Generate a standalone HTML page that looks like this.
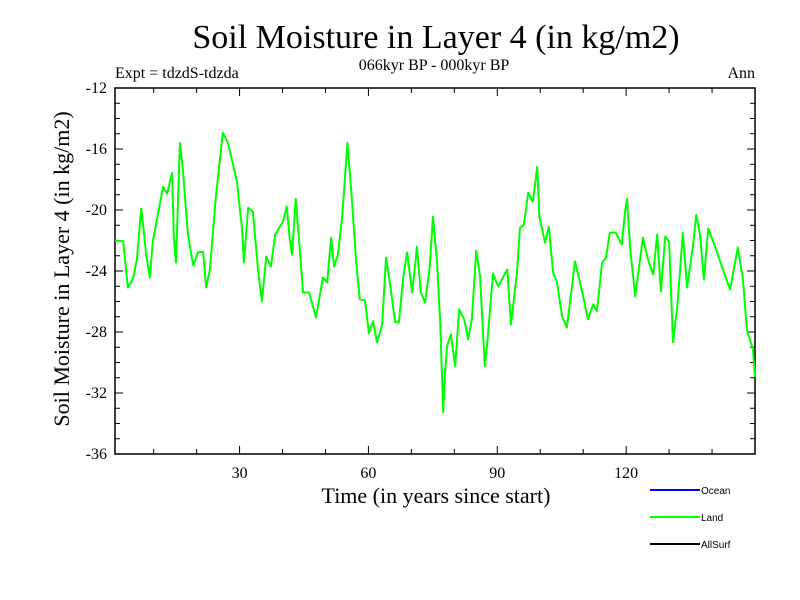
<!DOCTYPE html>
<html><head><meta charset="utf-8">
<style>
body{margin:0;background:#fff;}
svg{display:block;}
</style></head>
<body>
<svg id="chart" width="800" height="600" xmlns="http://www.w3.org/2000/svg">
<rect width="800" height="600" fill="#fff"/>
<text x="436" y="48" font-family="Liberation Serif, serif" font-size="34" text-anchor="middle">Soil Moisture in Layer 4 (in kg/m2)</text>
<text x="115" y="78" font-family="Liberation Serif, serif" font-size="16">Expt = tdzdS-tdzda</text>
<text x="434" y="70" font-family="Liberation Serif, serif" font-size="16" text-anchor="middle">066kyr BP - 000kyr BP</text>
<text x="755" y="78" font-family="Liberation Serif, serif" font-size="16" text-anchor="end">Ann</text>
<g id="axes"></g>
<g id="series"></g>
<text x="436" y="503" font-family="Liberation Serif, serif" font-size="22" text-anchor="middle">Time (in years since start)</text>
<text transform="translate(69,269) rotate(-90)" font-family="Liberation Serif, serif" font-size="22" text-anchor="middle">Soil Moisture in Layer 4 (in kg/m2)</text>
<g>
<line x1="650" y1="490" x2="700" y2="490" stroke="#0000ff" stroke-width="2"/>
<text x="701" y="494" font-family="Liberation Sans, sans-serif" font-size="10">Ocean</text>
<line x1="650" y1="517" x2="700" y2="517" stroke="#00ff00" stroke-width="2"/>
<text x="701" y="521" font-family="Liberation Sans, sans-serif" font-size="10">Land</text>
<line x1="650" y1="544" x2="700" y2="544" stroke="#000" stroke-width="2"/>
<text x="701" y="548" font-family="Liberation Sans, sans-serif" font-size="10">AllSurf</text>
</g>
</svg>
<script>
const years = [1,2.9,4.0,5.2,6.1,7.1,7.3,8.2,9.1,9.8,12.2,13.1,14.3,14.7,15.2,16.1,16.8,18.0,19.2,20.3,21.5,22.2,23.1,24.5,26.1,27.3,29.4,30.6,31.0,32.0,33.1,34.3,35.2,36.2,37.3,38.3,40.1,41.0,41.7,42.2,43.1,44.8,46.2,47.8,49.4,50.4,51.3,52.0,52.9,53.9,55.1,56.0,57.1,58.0,59.2,60.1,61.1,62.0,63.2,64.1,65.0,66.2,67.1,68.1,69.0,70.2,71.3,72.2,73.2,74.3,75.0,76.0,76.7,77.4,77.8,78.3,79.2,80.2,81.1,82.3,83.2,84.1,85.1,86.0,87.1,87.6,89.0,90.2,92.3,93.2,94.6,95.3,96.2,97.2,98.3,99.3,99.8,101.1,102.0,103.0,103.9,105.1,106.2,108.1,110.0,111.1,112.3,113.2,114.4,115.3,116.2,117.6,119.0,119.7,120.2,120.9,122.1,123.9,125.1,126.3,127.2,128.1,129.1,130.0,130.9,131.9,132.6,133.2,134.2,135.6,136.3,137.2,138.1,139.1,140.7,142.3,144.2,146.0,147.2,148.1,149.5,150];
const landValues = [-22.0,-22.05,-25.08,-24.49,-23.25,-19.91,-20.31,-22.79,-24.43,-22.07,-18.47,-18.93,-17.56,-21.74,-23.45,-15.6,-17.36,-21.61,-23.64,-22.79,-22.73,-25.08,-23.9,-19.13,-14.94,-15.6,-18.15,-21.29,-23.45,-19.85,-20.11,-23.9,-26.0,-23.05,-23.71,-21.61,-20.76,-19.78,-21.94,-22.92,-19.26,-25.41,-25.41,-27.04,-24.43,-24.75,-21.81,-23.71,-22.92,-20.44,-15.6,-18.67,-23.25,-25.86,-25.93,-28.09,-27.3,-28.68,-27.5,-23.12,-24.75,-27.37,-27.37,-24.43,-22.79,-25.41,-22.4,-25.41,-26.06,-23.71,-20.44,-23.45,-27.37,-33.26,-30.9,-28.94,-28.15,-30.25,-26.52,-27.17,-28.48,-27.17,-22.66,-24.36,-30.25,-28.94,-24.16,-25.01,-23.9,-27.5,-24.1,-21.16,-20.96,-18.87,-19.46,-17.17,-20.44,-22.14,-21.09,-24.1,-24.75,-26.98,-27.7,-23.38,-25.67,-27.17,-26.19,-26.65,-23.45,-23.12,-21.48,-21.48,-22.27,-20.18,-19.26,-22.4,-25.67,-21.81,-23.25,-24.23,-21.61,-25.34,-21.74,-22.07,-28.68,-26.32,-23.77,-21.48,-25.08,-22.27,-20.31,-21.61,-24.56,-21.22,-22.4,-23.71,-25.21,-22.46,-24.56,-27.83,-29.13,-30.96];
const xTicks = [30,60,90,120];
const xMinorTicks = [10,20,40,50,70,80,100,110,130,140];
const yTicks = [-12,-16,-20,-24,-28,-32,-36];

const L=115,R=755,T=88,B=454, XMIN=1, XMAX=150, YMIN=-36, YMAX=-12;
const xs = v => L + (v-XMIN)/(XMAX-XMIN)*(R-L);
const ys = v => B - (v-YMIN)/(YMAX-YMIN)*(B-T);
const NS='http://www.w3.org/2000/svg';
const axes=document.getElementById('axes');
function mk(tag, attrs, parent){const e=document.createElementNS(NS,tag);for(const k in attrs)e.setAttribute(k,attrs[k]);parent.appendChild(e);return e;}

const frame=mk('rect',{x:L,y:T,width:R-L,height:B-T,fill:'none',stroke:'#000','stroke-width':1.5},axes);



xTicks.forEach(t=>{
  const x=xs(t);
  const tk=mk('line',{x1:x,y1:B,x2:x,y2:B-8,stroke:'#000','stroke-width':1},axes);
  
  
  const tk2=mk('line',{x1:x,y1:T,x2:x,y2:T+8,stroke:'#000','stroke-width':1},axes);
  
  
  const lb=mk('text',{x:x,y:B+24,'font-family':'Liberation Serif, serif','font-size':16,'text-anchor':'middle'},axes);
  lb.textContent=t;
  
  
});
xMinorTicks.forEach(t=>{
  const x=xs(t);
  const tk=mk('line',{x1:x,y1:B,x2:x,y2:B-5,stroke:'#000','stroke-width':1},axes);
  
  
  const tk2=mk('line',{x1:x,y1:T,x2:x,y2:T+5,stroke:'#000','stroke-width':1},axes);
  
  
});
for(let v=YMIN; v<=YMAX; v++){
  const y=ys(v); const major=(v%4===0); const len=major?8:5;
  const a=mk('line',{x1:L,y1:y,x2:L+len,y2:y,stroke:'#000','stroke-width':1},axes);
  
  
  const b=mk('line',{x1:R,y1:y,x2:R-len,y2:y,stroke:'#000','stroke-width':1},axes);
  
  
}
yTicks.forEach(t=>{
  const lb=mk('text',{x:L-8,y:ys(t)+5,'font-family':'Liberation Serif, serif','font-size':16,'text-anchor':'end'},axes);
  lb.textContent=t;
  
  
});

const series=document.getElementById('series');
const pts=years.map((yr,i)=>xs(yr).toFixed(1)+','+ys(landValues[i]).toFixed(1)).join(' ');
const line=mk('polyline',{points:pts,fill:'none',stroke:'#00ff00','stroke-width':2,'stroke-linejoin':'round'},series);


</script>
</body></html>
